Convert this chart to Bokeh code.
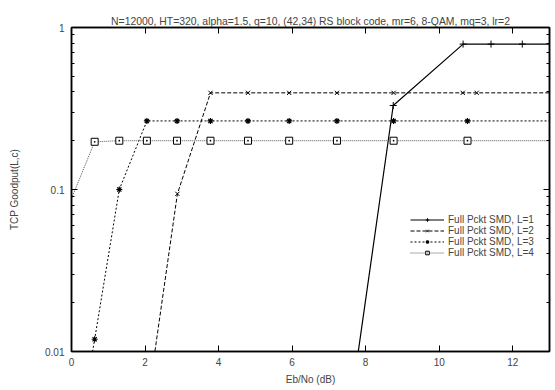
from bokeh.plotting import figure
from bokeh.models import LinearAxis, LogAxis, FixedTicker, Legend
from bokeh.embed import file_html
from bokeh.resources import INLINE

# ---- data ----
x_l1 = [7.6, 8.75, 10.65, 11.41, 12.26, 13.4]
y_l1 = [0.0048, 0.33, 0.79, 0.79, 0.79, 0.79]

x_l2 = [1.9, 2.88, 3.78, 4.80, 5.92, 7.22, 8.76, 10.64, 11.02, 13.4]
y_l2 = [0.0026, 0.094, 0.395, 0.395, 0.395, 0.395, 0.395, 0.395, 0.395, 0.395]

x_l3 = [0.3, 0.63, 1.30, 2.05, 2.87, 3.78, 4.80, 5.92, 7.22, 8.76, 10.77, 13.4]
y_l3 = [0.0043, 0.0119, 0.10, 0.265, 0.265, 0.265, 0.265, 0.265, 0.265, 0.265, 0.265, 0.265]

x_l4 = [-0.3, 0.63, 1.30, 2.05, 2.87, 3.78, 4.80, 5.92, 7.22, 8.76, 10.77, 13.4]
y_l4 = [0.060, 0.197, 0.20, 0.20, 0.20, 0.20, 0.20, 0.20, 0.20, 0.20, 0.20, 0.20]

labels = ["Full Pckt SMD, L=1", "Full Pckt SMD, L=2", "Full Pckt SMD, L=3", "Full Pckt SMD, L=4"]
x_ticks = [0, 2, 4, 6, 8, 10, 12]
y_major = [0.01, 0.1, 1]
y_minor = [0.02, 0.03, 0.04, 0.05, 0.06, 0.07, 0.08, 0.09,
           0.2, 0.3, 0.4, 0.5, 0.6, 0.7, 0.8, 0.9]
y_tick_labels = {0.01: "0.01", 0.1: "0.1", 1: "1"}
title_text = "N=12000, HT=320, alpha=1.5, q=10, (42,34) RS block code, mr=6, 8-QAM, mq=3, lr=2"

FONT = "Liberation Sans"

p = figure(width=555, height=390, output_backend="svg", toolbar_location=None,
           x_range=(0, 13), y_range=(0.01, 1), y_axis_type="log",
           title=title_text, min_border_left=71, min_border_right=6,
           min_border_top=27, min_border_bottom=39)
p.title.text_font = FONT
p.title.text_font_size = "10.4px"
p.title.text_font_style = "normal"
p.title.align = "center"
p.title.offset = 0
p.title.standoff = 2
p.xgrid.visible = False
p.ygrid.visible = False
p.outline_line_color = "black"
p.outline_line_width = 1.5
p.background_fill_color = "white"
p.border_fill_color = "white"

def style_axis(ax, labels_on=True):
    ax.axis_line_color = "black"
    ax.axis_line_width = 1.5
    ax.major_tick_in = 6
    ax.major_tick_out = 0
    ax.minor_tick_in = 3
    ax.minor_tick_out = 0
    ax.major_tick_line_color = "black"
    ax.minor_tick_line_color = "black"
    ax.major_label_text_font = FONT
    ax.major_label_text_font_size = "10px"
    if not labels_on:
        ax.major_label_text_color = None
        ax.major_label_standoff = 0
    ax.axis_label_text_font = FONT
    ax.axis_label_text_font_size = "10px"
    ax.axis_label_text_font_style = "normal"

xa = p.xaxis[0]
xa.ticker = FixedTicker(ticks=x_ticks)
xa.axis_label = "Eb/No (dB)"
style_axis(xa)
xa.major_label_standoff = 6
xa.axis_label_standoff = 5

ya = p.yaxis[0]
ya.ticker = FixedTicker(ticks=y_major, minor_ticks=y_minor)
ya.axis_label = "TCP Goodput(L,c)"
style_axis(ya)
ya.major_label_overrides = y_tick_labels
ya.major_label_standoff = 7
ya.axis_label_standoff = 22

top = LinearAxis(ticker=FixedTicker(ticks=x_ticks))
style_axis(top, labels_on=False)
p.add_layout(top, "above")
right = LogAxis(ticker=FixedTicker(ticks=y_major, minor_ticks=y_minor))
style_axis(right, labels_on=False)
p.add_layout(right, "right")

r1l = p.line(x_l1, y_l1, line_color="black", line_width=1.2)
r1m = p.scatter(x_l1, y_l1, marker="cross", size=7, line_color="black", line_width=1)
r2l = p.line(x_l2, y_l2, line_color="black", line_width=1, line_dash="4 2")
r2m = p.scatter(x_l2, y_l2, marker="x", size=6, line_color="black", line_width=1)
r3l = p.line(x_l3, y_l3, line_color="black", line_width=1, line_dash="2 2")
r3m = p.scatter(x_l3, y_l3, marker="asterisk", size=6, line_color="black", line_width=1.2)
r4l = p.line(x_l4, y_l4, line_color="#555555", line_width=1, line_dash="1 1")
r4m = p.scatter(x_l4, y_l4, marker="square_dot", size=7, line_color="black", fill_color="white", line_width=1)

legend = Legend(items=[(labels[0], [r1l, r1m]), (labels[1], [r2l, r2m]),
                       (labels[2], [r3l, r3m]), (labels[3], [r4l, r4m])],
                location=(339, 93))
legend.label_text_font = FONT
legend.label_text_font_size = "10px"
legend.label_height = 9
legend.glyph_height = 9
legend.glyph_width = 34
legend.label_standoff = 4
legend.spacing = 0
legend.padding = 2
legend.margin = 0
legend.border_line_color = None
legend.background_fill_alpha = 0
p.add_layout(legend, "center")

open("out.html", "w").write(file_html(p, INLINE))
